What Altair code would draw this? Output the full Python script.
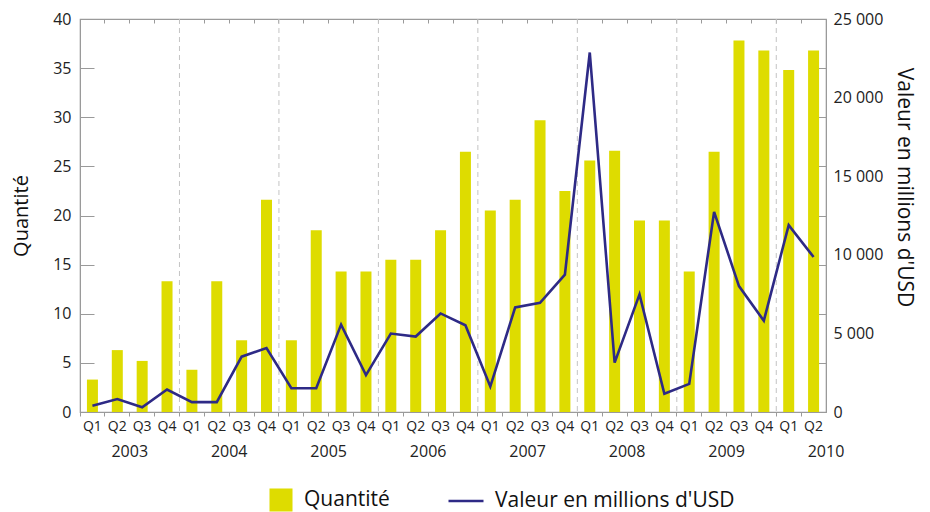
import altair as alt
import pandas as pd

# ---- data ----
years = [2003, 2004, 2005, 2006, 2007, 2008, 2009, 2010]
quarters = ["Q1", "Q2", "Q3", "Q4"]
quantite = [3.3, 6.3, 5.2, 13.3,
            4.3, 13.3, 7.3, 21.6,
            7.3, 18.5, 14.3, 14.3,
            15.5, 15.5, 18.5, 26.5,
            20.5, 21.6, 29.7, 22.5,
            25.6, 26.6, 19.5, 19.5,
            14.3, 26.5, 37.8, 36.8,
            34.8, 36.8]
valeur = [400, 820, 300, 1430,
          630, 630, 3520, 4070,
          1510, 1510, 5560, 2350,
          4990, 4800, 6270, 5520,
          1620, 6650, 6940, 8740,
          22870, 3140, 7480, 1160,
          1790, 12730, 8010, 5810,
          11890, 9860]
left_ticks = [0, 5, 10, 15, 20, 25, 30, 35, 40]
right_ticks = [0, 5000, 10000, 15000, 20000, 25000]

cats = [f"{y}-{q}" for y in years for q in quarters][:len(quantite)]
df = pd.DataFrame({"cat": cats, "quantite": quantite, "valeur": valeur,
                   "s1": "Quantité", "s2": "Valeur en millions d'USD"})
year_lines = pd.DataFrame({"cat": [f"{y}-Q1" for y in years[1:]]})
year_labels = pd.DataFrame({"cat": [f"{y}-Q2" for y in years], "year": [str(y) for y in years]})

FONT = "Open Sans"
YEL = "#dedc00"
NAVY = "#2e2a86"
GREY = "#9a9a9a"
W, H = 746, 393

xaxis = alt.Axis(title=None, labelExpr="slice(datum.value, 5)", bandPosition=0,
                 tickSize=4, tickColor=GREY, domainColor=GREY,
                 grid=True, gridDash=[4, 3000], gridColor=GREY,
                 labelFontSize=14, labelFont=FONT, labelColor="#222",
                 labelPadding=3, labelAngle=0)
xscale = alt.Scale(domain=cats, paddingInner=0, paddingOuter=0)

rules = alt.Chart(year_lines).mark_rule(color="#c4c4c4", strokeDash=[5, 4], strokeWidth=1).encode(
    x=alt.X("cat:N", bandPosition=0, scale=xscale, axis=xaxis)
)

bars = alt.Chart(df).mark_bar(size=11).encode(
    x=alt.X("cat:N", scale=xscale, axis=xaxis),
    y=alt.Y("quantite:Q", scale=alt.Scale(domain=[0, 40], nice=False),
            axis=alt.Axis(title="Quantité", values=left_ticks, ticks=False,
                          grid=True, gridDash=[14, W - 28, 14, 3000], gridColor=GREY,
                          gridWidth=1, domainColor=GREY,
                          labelFontSize=16, labelFont=FONT, labelColor="#222", labelPadding=9,
                          titleFontSize=20, titleFont=FONT, titleFontWeight="normal",
                          titleColor="#111", titlePadding=21)),
    color=alt.Color("s1:N", scale=alt.Scale(domain=["Quantité"], range=[YEL]),
                    legend=alt.Legend(title=None, orient="none", legendX=189, legendY=469,
                                      symbolType="square", symbolSize=530, symbolStrokeWidth=0,
                                      labelFontSize=21, labelFont=FONT, labelColor="#111",
                                      labelOffset=11, labelLimit=400)),
)

line = alt.Chart(df).mark_line(strokeWidth=2.6).encode(
    x=alt.X("cat:N", scale=xscale, axis=xaxis),
    y=alt.Y("valeur:Q", scale=alt.Scale(domain=[0, 25000], nice=False),
            axis=alt.Axis(title="Valeur en millions d'USD", orient="right", values=right_ticks,
                          ticks=False, grid=False, domainColor=GREY,
                          labelExpr="replace(format(datum.value, ',d'), ',', ' ')",
                          labelFontSize=16, labelFont=FONT, labelColor="#222", labelPadding=7,
                          titleFontSize=21, titleFont=FONT, titleFontWeight="normal",
                          titleColor="#111", titlePadding=11, titleY=168)),
    stroke=alt.Stroke("s2:N", scale=alt.Scale(domain=["Valeur en millions d'USD"], range=[NAVY]),
                      legend=alt.Legend(title=None, orient="none", legendX=367, legendY=463,
                                        symbolType="stroke", symbolSize=1225, symbolStrokeWidth=2.6,
                                        labelFontSize=21, labelFont=FONT, labelColor="#111",
                                        labelOffset=10, labelLimit=400)),
)

yrs = alt.Chart(year_labels).mark_text(fontSize=16, font=FONT, color="#222", baseline="middle").encode(
    x=alt.X("cat:N", bandPosition=1, scale=xscale, axis=xaxis),
    y=alt.value(H + 40),
    text="year:N",
)

chart = alt.layer(rules, bars, line, yrs).resolve_scale(
    y="independent", color="independent", stroke="independent"
).properties(
    width=W, height=H,
    autosize=alt.AutoSizeParams(type="none"),
    padding={"left": 72, "top": 11, "right": 96, "bottom": 100},
).configure_view(stroke=GREY, strokeWidth=1.2)

chart.save("out.html", embed_options={"renderer": "svg", "actions": False})
